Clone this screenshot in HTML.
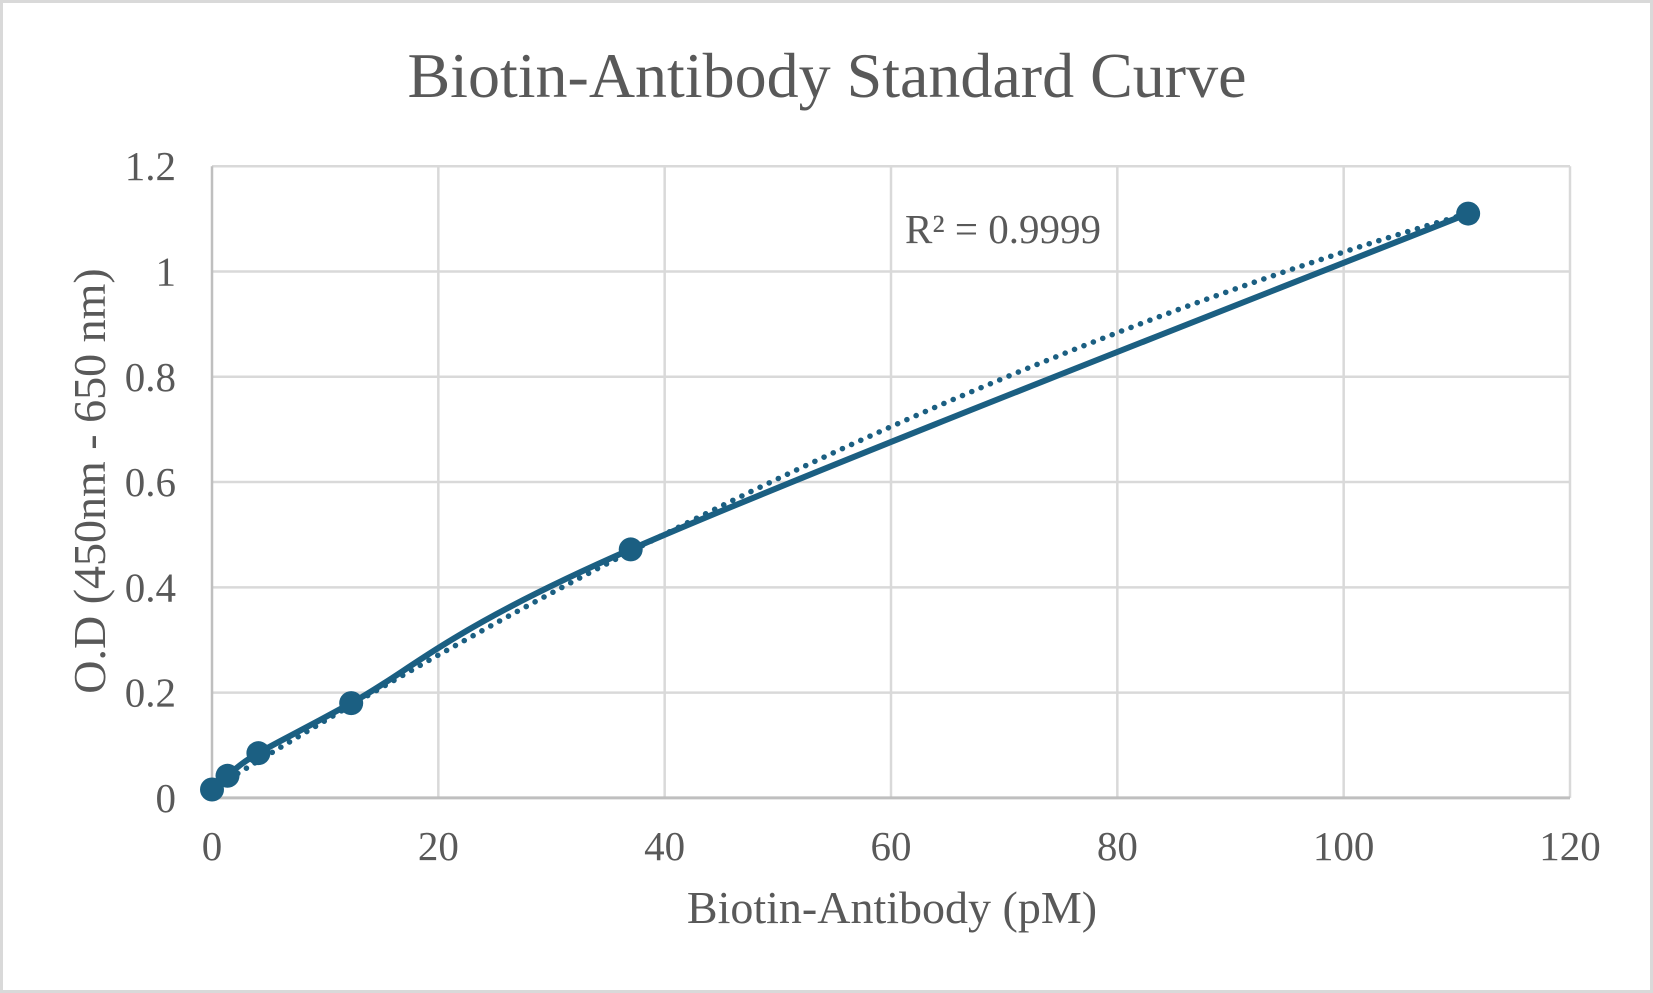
<!DOCTYPE html>
<html><head><meta charset="utf-8"><style>
html,body{margin:0;padding:0;background:#fff;}
svg{display:block;font-family:"Liberation Serif",serif;}
</style></head><body>
<svg width="1653" height="993" viewBox="0 0 1653 993">
<rect x="1.5" y="1.5" width="1650" height="990" fill="#fff" stroke="#d9d9d9" stroke-width="3"/>
<text x="827" y="97" text-anchor="middle" font-size="64" fill="#595959">Biotin-Antibody Standard Curve</text>
<g id="grid"></g>
<g id="axes"></g>
<g id="series"></g>
<text x="1003" y="243" text-anchor="middle" font-size="41" fill="#595959">R² = 0.9999</text>
<text x="892" y="923" text-anchor="middle" font-size="46" fill="#595959">Biotin-Antibody (pM)</text>
<text transform="translate(105,481) rotate(-90)" text-anchor="middle" font-size="46" fill="#595959">O.D (450nm - 650 nm)</text>
</svg>
<script>
const xValues = [0, 1.37, 4.1, 12.3, 37, 111];
const yValues = [0.016, 0.042, 0.085, 0.18, 0.472, 1.11];
const xTicks = [0, 20, 40, 60, 80, 100, 120];
const yTicks = [0, 0.2, 0.4, 0.6, 0.8, 1, 1.2];
const trendCoeffs = [0.016, 0.0134, -0.0000319];

const NS = "http://www.w3.org/2000/svg";
const L = 212, R = 1570, T = 166.2, B = 797.9;
const xs = v => L + (v - 0) / (120 - 0) * (R - L);
const ys = v => B - (v - 0) / (1.2 - 0) * (B - T);
function mk(tag, attrs, parent) {
  const e = document.createElementNS(NS, tag);
  for (const k in attrs) e.setAttribute(k, attrs[k]);
  parent.appendChild(e);
  return e;
}
const grid = document.getElementById('grid');
const axes = document.getElementById('axes');
const series = document.getElementById('series');

yTicks.forEach(t => {
  if (t === 0) return;
  const ln = mk('line', {x1: L, x2: R, y1: ys(t), y2: ys(t), stroke: '#d9d9d9', 'stroke-width': 2.5}, grid);
  
  
});
xTicks.forEach(t => {
  if (t === 0) return;
  const ln = mk('line', {x1: xs(t), x2: xs(t), y1: T, y2: B, stroke: '#d9d9d9', 'stroke-width': 2.5}, grid);
  
  
});
const yAxis = mk('line', {x1: L, x2: L, y1: T, y2: B, stroke: '#bfbfbf', 'stroke-width': 2.5}, axes);


const xAxis = mk('line', {x1: L, x2: R, y1: B, y2: B, stroke: '#bfbfbf', 'stroke-width': 3}, axes);



yTicks.forEach(t => {
  const tx = mk('text', {x: 176, y: ys(t) + 14, 'text-anchor': 'end', 'font-size': 41, fill: '#595959'}, axes);
  tx.textContent = String(t);
  
  
});
xTicks.forEach(t => {
  const tx = mk('text', {x: xs(t), y: 860, 'text-anchor': 'middle', 'font-size': 41, fill: '#595959'}, axes);
  tx.textContent = String(t);
  
  
});

let td = '';
for (let i = 0; i <= 100; i++) {
  const xv = xValues[0] + (xValues[xValues.length - 1] - xValues[0]) * i / 100;
  const yv = trendCoeffs[0] + trendCoeffs[1] * xv + trendCoeffs[2] * xv * xv;
  td += (i ? 'L' : 'M') + xs(xv).toFixed(1) + ',' + ys(yv).toFixed(1);
}
const trend = mk('path', {d: td, fill: 'none', stroke: '#1b5f82', 'stroke-width': 5.5, 'stroke-dasharray': '0.1 10', 'stroke-linecap': 'round'}, series);



const P = xValues.map((x, i) => [xs(x), ys(yValues[i])]);
let d = 'M' + P[0][0] + ',' + P[0][1];
for (let i = 0; i < P.length - 1; i++) {
  const p0 = P[Math.max(0, i - 1)], p1 = P[i], p2 = P[i + 1], p3 = P[Math.min(P.length - 1, i + 2)];
  const c1 = [p1[0] + (p2[0] - p0[0]) / 6, p1[1] + (p2[1] - p0[1]) / 6];
  const c2 = [p2[0] - (p3[0] - p1[0]) / 6, p2[1] - (p3[1] - p1[1]) / 6];
  d += 'C' + c1.join(',') + ' ' + c2.join(',') + ' ' + p2.join(',');
}
const line = mk('path', {d: d, fill: 'none', stroke: '#1b5f82', 'stroke-width': 6}, series);



P.forEach(p => {
  const c = mk('circle', {cx: p[0], cy: p[1], r: 12, fill: '#1b5f82'}, series);
  
  
});
</script>
</body></html>
